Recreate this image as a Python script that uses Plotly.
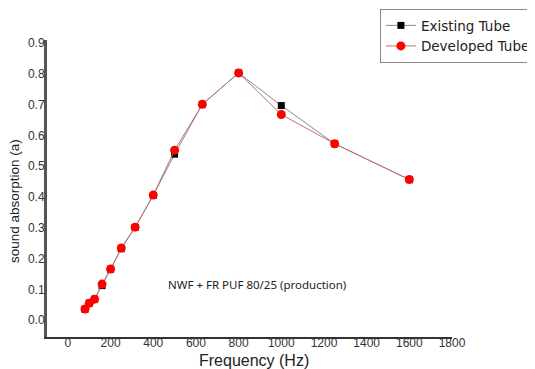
import plotly.graph_objects as go

freq = [80, 100, 125, 160, 200, 250, 315, 400, 500, 630, 800, 1000, 1250, 1600]
existing = [0.035, 0.055, 0.068, 0.112, 0.165, 0.232, 0.301, 0.405, 0.539, 0.701, 0.803, 0.697, 0.573, 0.456]
developed = [0.036, 0.055, 0.068, 0.117, 0.166, 0.234, 0.302, 0.406, 0.552, 0.701, 0.803, 0.668, 0.573, 0.457]
y_ticks = [0.0, 0.1, 0.2, 0.3, 0.4, 0.5, 0.6, 0.7, 0.8, 0.9]
x_ticks = [0, 200, 400, 600, 800, 1000, 1200, 1400, 1600, 1800]

fig = go.Figure()
fig.add_trace(go.Scatter(
    x=freq, y=existing, mode="lines+markers", name="Existing Tube",
    line=dict(color="#8a8a8a", width=1),
    marker=dict(symbol="square", size=7, color="black"),
))
fig.add_trace(go.Scatter(
    x=freq, y=developed, mode="lines+markers", name="Developed Tube",
    line=dict(color="#c07070", width=1),
    marker=dict(symbol="circle", size=9, color="#ff0000"),
))

fig.add_annotation(
    x=885, y=0.114, xref="x", yref="y", showarrow=False,
    text="NWF + FR PUF 80/25 (production)",
    font=dict(family="Noto Sans, Liberation Sans, Arial", size=11.5, color="#222"),
)
# axis titles
fig.add_annotation(
    x=0.511, y=-0.078, xref="paper", yref="paper", showarrow=False,
    xanchor="center", yanchor="middle",
    text="Frequency (Hz)",
    font=dict(size=16, color="#222"),
)
fig.add_annotation(
    x=0, y=0.458, xref="paper", yref="paper", showarrow=False,
    xanchor="center", yanchor="middle", xshift=-32, textangle=-90,
    text="sound absorption (a)",
    font=dict(size=13.5, color="#222"),
)

fig.update_layout(
    width=527, height=361,
    margin=dict(l=39, r=83, t=32, b=32, autoexpand=False),
    paper_bgcolor="white", plot_bgcolor="white",
    font=dict(family="Liberation Sans, Arial", color="#222"),
    showlegend=True,
    legend=dict(
        x=0.822, y=1.104, xanchor="left", yanchor="top",
        bordercolor="#888", borderwidth=1, bgcolor="white",
        font=dict(family="DejaVu Sans", size=13.5, color="#222"),
        tracegroupgap=0, itemwidth=30,
    ),
)
fig.update_xaxes(
    range=[-98, 1800], tickvals=x_ticks, ticks="", showgrid=False, zeroline=False,
    showline=True, linecolor="#333", linewidth=1.5, ticklabelstandoff=-6,
    tickfont=dict(size=12, color="#333"),
)
fig.update_yaxes(
    range=[-0.055, 0.91], tickvals=y_ticks, tickformat=".1f", ticks="", showgrid=False, zeroline=False,
    showline=True, linecolor="#555", linewidth=3, ticklabelstandoff=-3,
    tickfont=dict(size=12, color="#333"),
)

fig.write_html("out.html")
